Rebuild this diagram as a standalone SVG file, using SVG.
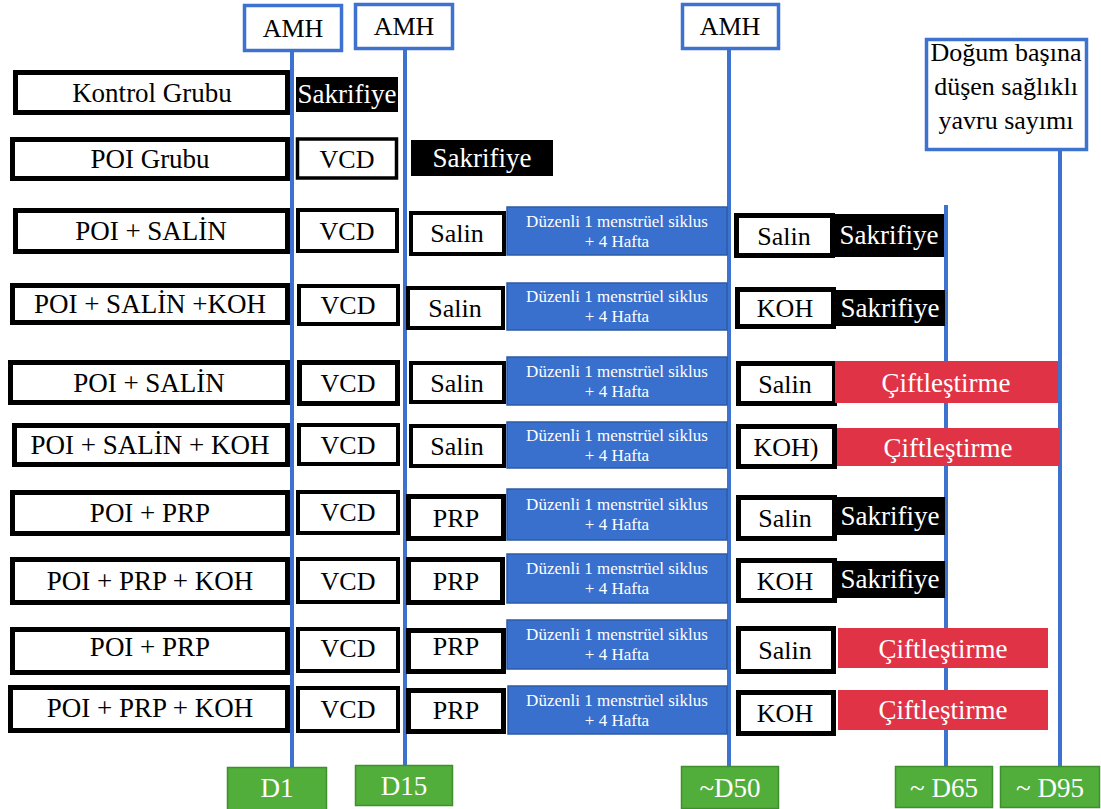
<svg xmlns="http://www.w3.org/2000/svg" width="1101" height="809" viewBox="0 0 1101 809" font-family="'Liberation Serif', 'DejaVu Serif', serif">
<style>
text{font-family:'Liberation Serif','DejaVu Serif',serif;text-anchor:middle}
.lb{fill:#fff;stroke:#000;stroke-width:5}
.wb{fill:#fff;stroke:#000;stroke-width:4}
.vb{fill:#fff;stroke:#000;stroke-width:3.5}
.bk{fill:#000}
.bl{fill:#3A70CD;stroke:#2D5BA6;stroke-width:1.5}
.rd{fill:#E03446}
.gr{fill:#52AE3B;stroke:#3F8F2E;stroke-width:1.5}
.amh{fill:#fff;stroke:#3E72CF;stroke-width:3.5}
.t{font-size:26px;fill:#000}
.lt{font-size:27px;fill:#000}
.w{font-size:27px;fill:#fff}
.s{font-size:17px;fill:#fff}
.vl{stroke:#3E72CF;stroke-width:4;fill:none}
</style>
<g id="connectors">
<line class="vl" x1="292" y1="52" x2="292" y2="768"/>
<line class="vl" x1="405" y1="50" x2="405" y2="766"/>
<line class="vl" x1="729" y1="50" x2="729" y2="767"/>
<line class="vl" x1="946" y1="205" x2="946" y2="767"/>
<line class="vl" x1="1060" y1="150" x2="1060" y2="767"/>
</g>
<g id="amh1"><rect class="amh" x="244.5" y="5.5" width="97" height="45"/><text class="t" x="293" y="37">AMH</text></g>
<g id="amh2"><rect class="amh" x="355.5" y="4.5" width="97" height="44"/><text class="t" x="404" y="35">AMH</text></g>
<g id="amh3"><rect class="amh" x="682.5" y="4.5" width="96" height="44"/><text class="t" x="730" y="35">AMH</text></g>
<g id="dogum"><rect class="amh" x="926.5" y="39.5" width="160" height="110"/>
<text class="t" x="1006" y="61">Doğum başına</text><text class="t" x="1006" y="95">düşen sağlıklı</text><text class="t" x="1006" y="129">yavru sayımı</text></g>

<g id="row1">
<rect class="lb" x="15.5" y="72.5" width="272" height="40"/><text class="lt" x="152" y="102">Kontrol Grubu</text>
<rect class="bk" x="296" y="77" width="102" height="35"/><text class="w" x="347" y="103">Sakrifiye</text>
</g>
<g id="row2">
<rect class="lb" x="12.5" y="139.5" width="275" height="39"/><text class="lt" x="150" y="168">POI Grubu</text>
<rect class="vb" x="297.5" y="139" width="99" height="39"/><text class="t" x="347" y="168">VCD</text>
<rect class="bk" x="411" y="140" width="142" height="36"/><text class="w" x="482" y="167">Sakrifiye</text>
</g>
<g id="row3">
<rect class="lb" x="15.5" y="210.5" width="272" height="41"/><text class="lt" x="151" y="240">POI + SALİN</text>
<rect class="wb" x="298" y="210" width="99" height="41"/><text class="t" x="347" y="240">VCD</text>
<rect class="wb" x="411" y="213" width="93" height="41"/><text class="t" x="457" y="242">Salin</text>
<rect class="bl" x="507" y="207" width="220" height="48"/><text class="s" x="617" y="227">Düzenli 1 menstrüel siklus</text><text class="s" x="617" y="247">+ 4 Hafta</text>
<rect class="lb" x="736.5" y="215.5" width="96" height="40"/><text class="t" x="784" y="245">Salin</text>
<rect class="bk" x="834" y="214" width="110" height="43"/><text class="w" x="889" y="244">Sakrifiye</text>
</g>
<g id="row4">
<rect class="lb" x="12.5" y="285.5" width="275" height="37"/><text class="lt" x="150" y="313">POI + SALİN +KOH</text>
<rect class="wb" x="299" y="286" width="99" height="38"/><text class="t" x="348" y="314">VCD</text>
<rect class="wb" x="408" y="288" width="95" height="40"/><text class="t" x="455" y="317">Salin</text>
<rect class="bl" x="507" y="283" width="220" height="47"/><text class="s" x="617" y="302">Düzenli 1 menstrüel siklus</text><text class="s" x="617" y="322">+ 4 Hafta</text>
<rect class="lb" x="737.5" y="289.5" width="96" height="37"/><text class="t" x="785" y="317">KOH</text>
<rect class="bk" x="836" y="290" width="109" height="36"/><text class="w" x="890" y="317">Sakrifiye</text>
</g>
<g id="row5">
<rect class="lb" x="10.5" y="362.5" width="277" height="40"/><text class="lt" x="149" y="392">POI + SALİN</text>
<rect class="lb" x="299.5" y="362.5" width="98" height="41"/><text class="t" x="348" y="392">VCD</text>
<rect class="wb" x="411" y="363" width="93" height="39"/><text class="t" x="457" y="392">Salin</text>
<rect class="bl" x="507" y="357" width="220" height="48"/><text class="s" x="617" y="377">Düzenli 1 menstrüel siklus</text><text class="s" x="617" y="397">+ 4 Hafta</text>
<rect class="lb" x="738.5" y="363.5" width="96" height="40"/><text class="t" x="785" y="393">Salin</text>
<rect class="rd" x="835" y="361" width="223" height="42"/><text class="w" x="946" y="392">Çiftleştirme</text>
</g>
<g id="row6">
<rect class="lb" x="14.5" y="425.5" width="273" height="39"/><text class="lt" x="150" y="454">POI + SALİN + KOH</text>
<rect class="wb" x="299" y="425" width="99" height="39"/><text class="t" x="348" y="454">VCD</text>
<rect class="wb" x="411" y="426" width="93" height="40"/><text class="t" x="457" y="455">Salin</text>
<rect class="bl" x="507" y="422" width="220" height="46"/><text class="s" x="617" y="441">Düzenli 1 menstrüel siklus</text><text class="s" x="617" y="461">+ 4 Hafta</text>
<rect class="lb" x="738.5" y="426.5" width="96" height="40"/><text class="t" x="786" y="456">KOH)</text>
<rect class="rd" x="837" y="428" width="223" height="38"/><text class="w" x="948" y="457">Çiftleştirme</text>
</g>
<g id="row7">
<rect class="lb" x="12.5" y="492.5" width="275" height="41"/><text class="lt" x="150" y="522">POI + PRP</text>
<rect class="wb" x="298" y="492" width="100" height="41"/><text class="t" x="348" y="521">VCD</text>
<rect class="lb" x="408.5" y="496.5" width="95" height="42"/><text class="t" x="456" y="527">PRP</text>
<rect class="bl" x="507" y="489" width="220" height="51"/><text class="s" x="617" y="510">Düzenli 1 menstrüel siklus</text><text class="s" x="617" y="530">+ 4 Hafta</text>
<rect class="lb" x="738.5" y="497.5" width="96" height="41"/><text class="t" x="785" y="527">Salin</text>
<rect class="bk" x="836" y="497" width="109" height="38"/><text class="w" x="890" y="525">Sakrifiye</text>
</g>
<g id="row8">
<rect class="lb" x="12.5" y="559.5" width="275" height="43"/><text class="lt" x="150" y="590">POI + PRP + KOH</text>
<rect class="wb" x="298" y="559" width="100" height="43"/><text class="t" x="348" y="590">VCD</text>
<rect class="lb" x="408.5" y="559.5" width="94" height="43"/><text class="t" x="456" y="590">PRP</text>
<rect class="bl" x="507" y="554" width="220" height="49"/><text class="s" x="617" y="574">Düzenli 1 menstrüel siklus</text><text class="s" x="617" y="594">+ 4 Hafta</text>
<rect class="lb" x="738.5" y="560.5" width="96" height="40"/><text class="t" x="785" y="590">KOH</text>
<rect class="bk" x="836" y="561" width="109" height="37"/><text class="w" x="890" y="588">Sakrifiye</text>
</g>
<g id="row9">
<rect class="lb" x="12.5" y="629.5" width="275" height="43"/><text class="lt" x="150" y="656">POI + PRP</text>
<rect class="wb" x="298" y="629" width="100" height="42"/><text class="t" x="348" y="657">VCD</text>
<rect class="lb" x="408.5" y="630.5" width="95" height="41"/><text class="t" x="456" y="655">PRP</text>
<rect class="bl" x="507" y="620" width="220" height="49"/><text class="s" x="617" y="640">Düzenli 1 menstrüel siklus</text><text class="s" x="617" y="660">+ 4 Hafta</text>
<rect class="lb" x="738.5" y="628.5" width="95" height="43"/><text class="t" x="785" y="659">Salin</text>
<rect class="rd" x="838" y="628" width="210" height="40"/><text class="w" x="943" y="658">Çiftleştirme</text>
</g>
<g id="row10">
<rect class="lb" x="10.5" y="687.5" width="277" height="43"/><text class="lt" x="150" y="717">POI + PRP + KOH</text>
<rect class="wb" x="298" y="688" width="100" height="43"/><text class="t" x="348" y="718">VCD</text>
<rect class="lb" x="408.5" y="690.5" width="95" height="41"/><text class="t" x="456" y="719">PRP</text>
<rect class="bl" x="508" y="686" width="219" height="48"/><text class="s" x="617" y="706">Düzenli 1 menstrüel siklus</text><text class="s" x="617" y="726">+ 4 Hafta</text>
<rect class="lb" x="738.5" y="692.5" width="95" height="41"/><text class="t" x="785" y="722">KOH</text>
<rect class="rd" x="838" y="690" width="210" height="40"/><text class="w" x="943" y="719">Çiftleştirme</text>
</g>
<g id="d1"><rect class="gr" x="227.5" y="767.5" width="99" height="44"/><text class="w" x="277" y="797">D1</text></g>
<g id="d15"><rect class="gr" x="355.5" y="765.5" width="97" height="40"/><text class="w" x="404" y="795">D15</text></g>
<g id="d50"><rect class="gr" x="681.5" y="766.5" width="97" height="42"/><text class="w" x="730" y="797">~D50</text></g>
<g id="d65"><rect class="gr" x="895.5" y="766.5" width="97" height="41"/><text class="w" x="944" y="797">~ D65</text></g>
<g id="d95"><rect class="gr" x="1000.5" y="766.5" width="99" height="41"/><text class="w" x="1050" y="797">~ D95</text></g>
</svg>
